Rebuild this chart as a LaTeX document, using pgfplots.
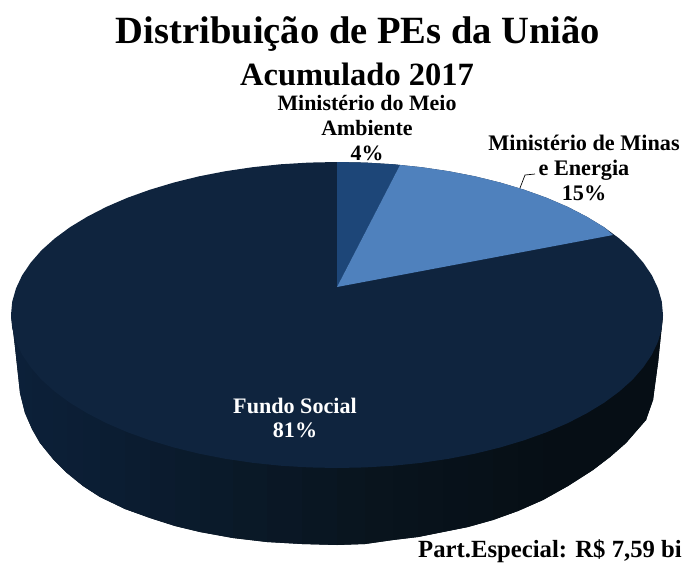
\documentclass[border=0pt]{standalone}
\usepackage{fontspec}
\setmainfont{Liberation Serif}
\usepackage{pgfplots}
\pgfplotsset{compat=1.18}
\usepackage{pgfplotstable}
\definecolor{big}{HTML}{0F243E}
\definecolor{mma}{HTML}{1D4678}
\definecolor{mme}{HTML}{4F81BD}
\definecolor{sl}{HTML}{0C2039}
\definecolor{sm}{HTML}{09151F}
\definecolor{sr}{HTML}{060E15}
\pgfplotstableread{
x y
663 315
661.8 301.7
658 288.4
651.9 275.4
643.3 262.7
632.5 250.3
619.3 238.5
604 227.2
586.7 216.7
567.5 206.8
546.6 197.8
524 189.7
500 182.5
474.8 176.3
448.5 171.2
421.4 167.2
393.6 164.3
365.4 162.6
337 162
308.6 162.6
280.4 164.3
252.6 167.2
225.5 171.2
199.2 176.3
174 182.5
150 189.7
127.4 197.8
106.5 206.8
87.3 216.7
70 227.2
54.7 238.5
41.5 250.3
30.7 262.7
22.1 275.4
16 288.4
12.2 301.7
11 315
12.2 328.3
16 341.6
22.1 354.6
30.7 367.3
41.5 379.7
54.7 391.5
70 402.8
87.3 413.3
106.5 423.2
127.4 432.2
150 440.3
174 447.5
199.2 453.7
225.5 458.8
252.6 462.8
280.4 465.7
308.6 467.4
337 468
365.4 467.4
393.6 465.7
421.4 462.8
448.5 458.8
474.8 453.7
500 447.5
524 440.3
546.6 432.2
567.5 423.2
586.7 413.3
604 402.8
619.3 391.5
632.5 379.7
643.3 367.3
651.9 354.6
658 341.6
661.8 328.3
}\toptable
\newcommand{\strip}[5]{\addplot[fill=#5,draw=none] coordinates {(#1,320) (#3,320) (#3,#4) (#1,#2)} --cycle;}
\begin{document}
\begin{tikzpicture}
\useasboundingbox (0,0) rectangle (686bp,563bp);
\begin{axis}[
  at={(0,0)},anchor=south west,
  width=686bp,height=563bp,scale only axis,
  xmin=0,xmax=686,ymin=0,ymax=563,y dir=reverse,
  hide axis,clip=false,
]
% side wall outline, then strips
\addplot[fill=sm,draw=none] coordinates {(11,315) (13,330) (15,347) (20,393) (25,413) (32,429) (40,443) (53,459) (67,473) (83,486) (100,497) (125,509) (150,518) (175,526) (200,532) (233,538) (267,542) (302,544) (337,545) (365,544) (393,540) (418,537) (443,532) (468,527) (493,520) (518,511) (543,500) (568,486) (593,470) (610,457) (626,443) (646,420) (653,400) (658,363) (663,315)} --cycle;
\addplot[fill=sl,draw=none] coordinates {(11,315) (13,330) (15,347) (15,320)} --cycle;
\strip{15}{347}{20}{393}{sl}
\strip{20}{393}{25}{413}{sl}
\strip{25}{413}{32}{429}{sl!97!sm}
\strip{32}{429}{40}{443}{sl!94!sm}
\strip{40}{443}{53}{459}{sl!92!sm}
\strip{53}{459}{67}{473}{sl!88!sm}
\strip{67}{473}{83}{486}{sl!84!sm}
\strip{83}{486}{100}{497}{sl!80!sm}
\strip{100}{497}{125}{509}{sl!74!sm}
\strip{125}{509}{150}{518}{sl!66!sm}
\strip{150}{518}{175}{526}{sl!58!sm}
\strip{175}{526}{200}{532}{sl!50!sm}
\strip{200}{532}{233}{538}{sl!42!sm}
\strip{233}{538}{267}{542}{sl!32!sm}
\strip{267}{542}{302}{544}{sl!22!sm}
\strip{302}{544}{337}{545}{sl!12!sm}
\strip{337}{545}{365}{544}{sm}
\strip{365}{544}{393}{540}{sm!85!sr}
\strip{393}{540}{418}{537}{sm!72!sr}
\strip{418}{537}{443}{532}{sm!60!sr}
\strip{443}{532}{468}{527}{sm!48!sr}
\strip{468}{527}{493}{520}{sm!36!sr}
\strip{493}{520}{518}{511}{sm!24!sr}
\strip{518}{511}{543}{500}{sm!12!sr}
\strip{543}{500}{568}{486}{sr}
\strip{568}{486}{593}{470}{sr}
\strip{593}{470}{610}{457}{sr}
\strip{610}{457}{626}{443}{sr}
\strip{626}{443}{646}{420}{sr}
\strip{646}{420}{653}{400}{sr}
\strip{653}{400}{658}{363}{sr}
\addplot[fill=sr,draw=none] coordinates {(658,320) (658,363) (663,315)} --cycle;
% top
\addplot[fill=big,draw=none] table[x=x,y=y]{\toptable} --cycle;
\addplot[fill=mma,draw=none] coordinates {(337,287) (337,162) (365.4,162.6) (393.6,164.3) (400,165)} --cycle;
\addplot[fill=mme,draw=none] coordinates {(337,287) (400,165) (421.4,167.2) (448.5,171.2) (474.8,176.3) (500,182.5) (524,189.7) (546.6,197.8) (567.5,206.8) (586.7,216.7) (604,227.2) (613,235)} --cycle;
\addplot[black,line width=0.7pt] coordinates {(520,188) (525,175) (535,174)};
% text
\node[font=\bfseries\fontsize{38.7}{38}\selectfont,align=center] at (axis cs:358,34) {Distribuição de PEs da União};
\node[font=\bfseries\fontsize{32.6}{32}\selectfont,align=center] at (axis cs:357,74) {Acumulado 2017};
\node[font=\bfseries\fontsize{22}{25}\selectfont,align=center] at (axis cs:367,128) {Ministério do Meio\\Ambiente\\4\%};
\node[font=\bfseries\fontsize{22.3}{25}\selectfont,align=center] at (axis cs:584,168) {Ministério de Minas\\e Energia\\15\%};
\node[font=\bfseries\fontsize{22.2}{25}\selectfont,align=center,text=white] at (axis cs:295,418) {Fundo Social\\81\%};
\node[font=\bfseries\fontsize{24.8}{24}\selectfont,align=center] at (axis cs:550,551) {Part.Especial: R\$ 7,59 bi};
\end{axis}
\end{tikzpicture}
\end{document}
